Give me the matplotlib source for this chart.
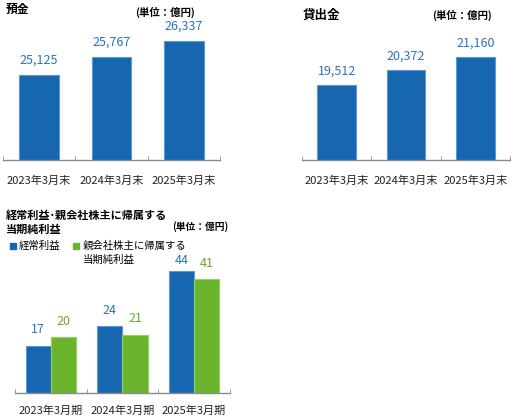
import matplotlib
matplotlib.use('Agg')
import matplotlib.pyplot as plt
import numpy as np

plt.rcParams['font.family'] = ['Noto Sans CJK JP', 'DejaVu Sans']

# data
years_end = ['2023年3月末', '2024年3月末', '2025年3月末']
years_fy = ['2023年3月期', '2024年3月期', '2025年3月期']
deposits = [25125, 25767, 26337]
loans = [19512, 20372, 21160]
ordinary_profit = [17, 24, 44]
net_income = [20, 21, 41]

BLUE = '#1766b0'
BLUE_EDGE = '#5b9ad6'
GREEN = '#6ab42d'
GREEN_EDGE = '#94d05a'
BLUE_TXT = '#2a72c0'
GREEN_TXT = '#62ad2a'
AXIS = '#8a8a8a'

W, H = 518, 416
fig = plt.figure(figsize=(W / 100, H / 100), dpi=100)


def px_axes(x0, x1, ytop, ybot):
    return fig.add_axes([x0 / W, 1 - ybot / H, (x1 - x0) / W, (ybot - ytop) / H])


def style(ax, labels, pad):
    for s in ['top', 'right', 'left']:
        ax.spines[s].set_visible(False)
    ax.spines['bottom'].set_color(AXIS)
    ax.spines['bottom'].set_linewidth(1.0)
    ax.set_yticks([])
    ax.set_xlim(-0.5, 2.5)
    ax.set_xticks(range(3))
    ax.set_xticklabels(labels, fontsize=8, color='#222222')
    ax.tick_params(axis='x', which='major', length=0, pad=pad)
    ax.set_xticks([-0.5, 0.5, 1.5, 2.5], minor=True)
    ax.tick_params(axis='x', which='minor', length=3, color=AXIS, direction='in')
    ax.patch.set_alpha(0)


x = np.arange(3)

# 預金
ax1 = px_axes(3, 220, 20, 160)
ax1.bar(x, deposits, width=0.55, color=BLUE, edgecolor=BLUE_EDGE, linewidth=0.8)
ax1.set_ylim(22080, 27071)
style(ax1, years_end, 11)
for i, v in enumerate(deposits):
    ax1.annotate(f'{v:,}', (i, v), xytext=(0, 5.5), textcoords='offset points',
                 ha='center', va='bottom', fontsize=9, color=BLUE_TXT)
fig.text(6 / W, 1 - 9 / H, '預金', fontsize=8.5, fontweight='bold', va='center', ha='left')
fig.text(165 / W, 1 - 12 / H, '(単位：億円)', fontsize=7.5, fontweight='bold', va='center', ha='center')

# 貸出金
ax2 = px_axes(302, 510, 20, 160)
ax2.bar(x, loans, width=0.555, color=BLUE, edgecolor=BLUE_EDGE, linewidth=0.8)
ax2.set_ylim(15097, 23337)
style(ax2, years_end, 11)
for i, v in enumerate(loans):
    ax2.annotate(f'{v:,}', (i, v), xytext=(0, 5.5), textcoords='offset points',
                 ha='center', va='bottom', fontsize=9, color=BLUE_TXT)
fig.text(303 / W, 1 - 15 / H, '貸出金', fontsize=9, fontweight='bold', va='center', ha='left')
fig.text(462 / W, 1 - 15 / H, '(単位：億円)', fontsize=7.5, fontweight='bold', va='center', ha='center')

# 経常利益・当期純利益
ax3 = px_axes(15, 230, 250, 393)
w = 0.35
ax3.bar(x - w / 2, ordinary_profit, width=w, color=BLUE, edgecolor=BLUE_EDGE, linewidth=0.8)
ax3.bar(x + w / 2, net_income, width=w, color=GREEN, edgecolor=GREEN_EDGE, linewidth=0.8)
ax3.set_ylim(0, 51.5)
style(ax3, years_fy, 9)

# value labels ~16px above the bar, but kept below the legend (y=260px)
fig.canvas.draw()
inv = fig.transFigure.inverted()


def bar_label(xpos, v, color):
    _, ytop = ax3.transData.transform((xpos, v))
    ytop_px = H - ytop
    ylab = min(ytop_px - 16, 999)
    ylab = max(ylab, 260)
    fig.text(ax3.transData.transform((xpos, 0))[0] / W, 1 - ylab / H, f'{v}',
             ha='center', va='center', fontsize=9, color=color)


for i, v in enumerate(ordinary_profit):
    bar_label(i - w / 2, v, BLUE_TXT)
for i, v in enumerate(net_income):
    bar_label(i + w / 2, v, GREEN_TXT)

fig.text(6 / W, 1 - 215 / H, '経常利益･親会社株主に帰属する', fontsize=8, fontweight='bold', va='center', ha='left')
fig.text(6 / W, 1 - 229 / H, '当期純利益', fontsize=8, fontweight='bold', va='center', ha='left')
fig.text(200 / W, 1 - 227 / H, '(単位：億円)', fontsize=7, fontweight='bold', va='center', ha='center')

# legend
fig.patches.append(plt.Rectangle((10 / W, 1 - 249 / H), 6 / W, 6 / H, transform=fig.transFigure,
                                 color=BLUE, figure=fig))
fig.text(19 / W, 1 - 246 / H, '経常利益', fontsize=7.5, va='center', ha='left')
fig.patches.append(plt.Rectangle((73 / W, 1 - 249 / H), 6 / W, 6 / H, transform=fig.transFigure,
                                 color=GREEN, figure=fig))
fig.text(83 / W, 1 - 246 / H, '親会社株主に帰属する', fontsize=7.5, va='center', ha='left')
fig.text(83 / W, 1 - 260 / H, '当期純利益', fontsize=7.5, va='center', ha='left')

fig.savefig('out.png', dpi=100)
